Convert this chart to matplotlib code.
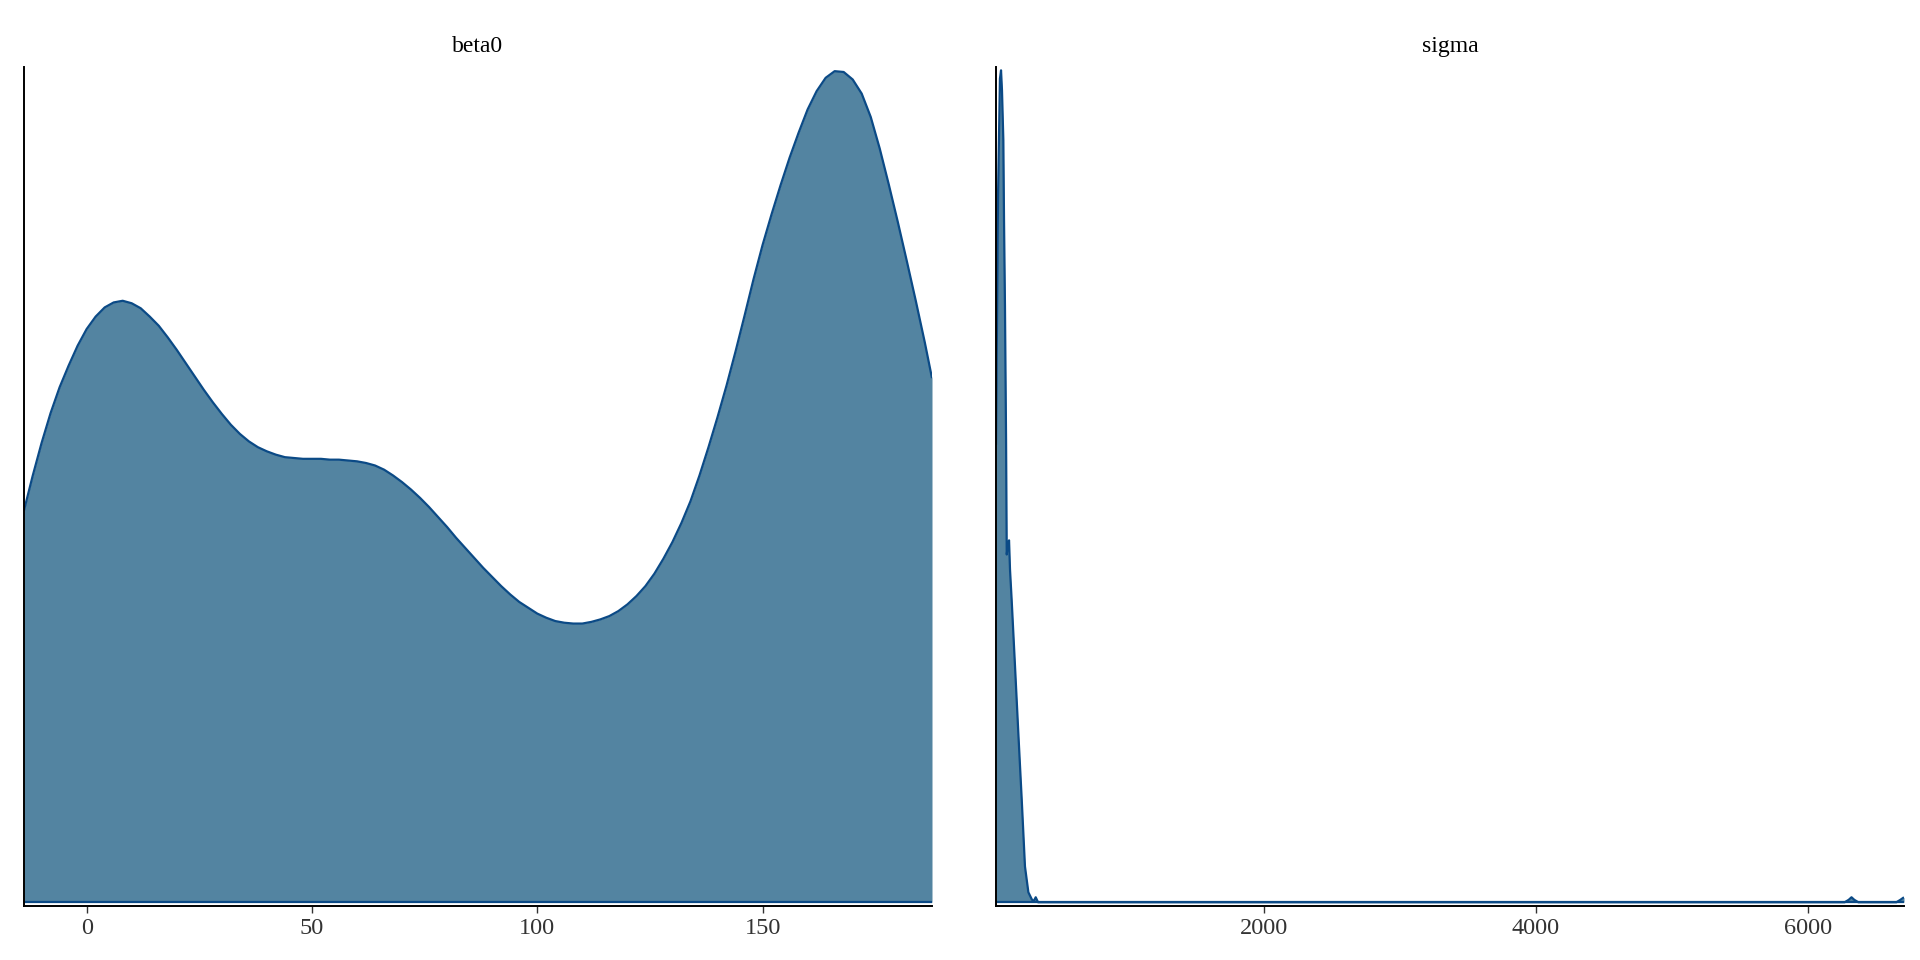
import matplotlib.pyplot as plt

# density curves (relative height, peak = 1)
beta0_x = [-13.9, -12, -10, -8, -6, -4, -2, 0, 2, 4, 6, 8, 10, 12, 14, 16, 18, 20,
           22, 24, 26, 28, 30, 32, 34, 36, 38, 40, 42, 44, 46, 48, 50, 52, 54, 56,
           58, 60, 62, 64, 66, 68, 70, 72, 74, 76, 78, 80, 82, 84, 86, 88, 90, 92,
           94, 96, 98, 100, 102, 104, 106, 108, 110, 112, 114, 116, 118, 120, 122,
           124, 126, 128, 130, 132, 134, 136, 138, 140, 142, 144, 146, 148, 150,
           152, 154, 156, 158, 160, 162, 164, 166, 168, 170, 172, 174, 176, 178,
           180, 182, 184, 186, 187.6]
beta0_dens = [0.471, 0.512, 0.552, 0.588, 0.619, 0.645, 0.669, 0.689, 0.704, 0.715,
              0.721, 0.723, 0.720, 0.714, 0.704, 0.693, 0.679, 0.664, 0.648, 0.632,
              0.616, 0.601, 0.587, 0.574, 0.563, 0.554, 0.547, 0.542, 0.538, 0.535,
              0.534, 0.533, 0.533, 0.533, 0.532, 0.532, 0.531, 0.530, 0.528, 0.525,
              0.520, 0.513, 0.505, 0.496, 0.486, 0.475, 0.463, 0.451, 0.438, 0.426,
              0.414, 0.402, 0.391, 0.380, 0.370, 0.361, 0.354, 0.347, 0.342, 0.338,
              0.336, 0.335, 0.335, 0.337, 0.340, 0.344, 0.350, 0.358, 0.368, 0.380,
              0.395, 0.413, 0.433, 0.456, 0.482, 0.513, 0.547, 0.583, 0.621, 0.662,
              0.705, 0.749, 0.790, 0.827, 0.862, 0.895, 0.925, 0.953, 0.975, 0.991,
              0.999, 0.998, 0.989, 0.972, 0.944, 0.906, 0.863, 0.818, 0.771, 0.723,
              0.673, 0.630]

sigma_x = [30, 45, 59, 67, 74, 84, 89, 96, 104, 109, 118, 126, 133, 145, 170, 194,
           219, 243, 268, 293, 306, 322, 339, 3000, 6270, 6300, 6320, 6340, 6370,
           6650, 6680, 6706]
sigma_dens = [0.55, 0.85, 0.99, 1.0, 0.976, 0.916, 0.82, 0.716, 0.556, 0.418, 0.43,
              0.435, 0.40, 0.364, 0.283, 0.204, 0.124, 0.043, 0.012, 0.0036, 0.001,
              0.006, 0.0, 0.0, 0.0, 0.003, 0.006, 0.003, 0.0, 0.0, 0.003, 0.006]

panels = [("beta0", beta0_x, beta0_dens, [0, 50, 100, 150]),
          ("sigma", sigma_x, sigma_dens, [2000, 4000, 6000])]

fill_col = "#5384a1"
line_col = "#0b4a86"

plt.rcParams["font.family"] = ["Liberation Serif", "DejaVu Serif"]

fig = plt.figure(figsize=(19.2, 9.6), dpi=100)
lefts = [24 / 1920, 996 / 1920]
for (name, x, d, ticks), left in zip(panels, lefts):
    ax = fig.add_axes([left, 54 / 960, 908 / 1920, 839 / 960])
    ax.fill_between(x, 0, d, color=fill_col, linewidth=0)
    ax.plot(x, d, color=line_col, lw=1.6, solid_capstyle="butt")
    ax.plot([x[0], x[-1]], [0, 0], color=line_col, lw=1.6)
    ax.set_xlim(x[0], x[-1])
    ax.set_ylim(-0.0045, 1.004)
    ax.set_xticks(ticks)
    ax.set_xticklabels([str(t) for t in ticks])
    ax.set_yticks([])
    ax.tick_params(axis="x", length=5, width=1, color="#333333",
                   labelcolor="#333333", labelsize=17.5, pad=4)
    for s in ["top", "right"]:
        ax.spines[s].set_visible(False)
    for s in ["left", "bottom"]:
        ax.spines[s].set_linewidth(1.4)
        ax.spines[s].set_color("black")
    ax.set_title(name, fontsize=17, pad=11)

fig.savefig("out.png", dpi=100)
